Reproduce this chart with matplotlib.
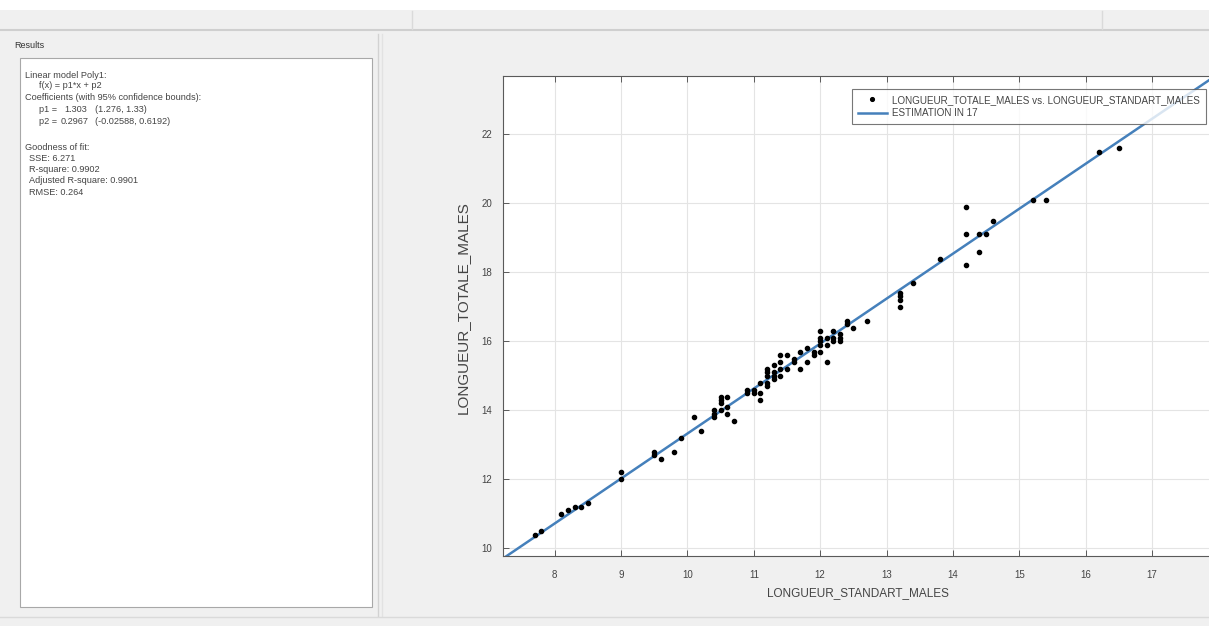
import matplotlib
matplotlib.use("Agg")
import matplotlib.pyplot as plt
from matplotlib.lines import Line2D
from matplotlib.patches import Rectangle

# ---------------- data ----------------
x_std = [7.7, 7.8, 8.1, 8.2, 8.3, 8.4, 8.5, 9.0, 9.0, 9.5, 9.5, 9.6, 9.8, 9.9,
         10.1, 10.2, 10.4, 10.4, 10.4, 10.5, 10.5, 10.5, 10.5, 10.6, 10.6, 10.6,
         10.7, 10.9, 10.9, 11.0, 11.0, 11.1, 11.1, 11.1, 11.2, 11.2, 11.2, 11.2,
         11.2, 11.3, 11.3, 11.3, 11.3, 11.4, 11.4, 11.4, 11.4, 11.5, 11.5, 11.6,
         11.6, 11.7, 11.7, 11.8, 11.8, 11.9, 11.9, 12.0, 12.0, 12.0, 12.0, 12.0,
         12.1, 12.1, 12.1, 12.2, 12.2, 12.2, 12.3, 12.3, 12.3, 12.4, 12.4, 12.5,
         12.7, 13.2, 13.2, 13.2, 13.2, 13.4, 13.8, 14.2, 14.2, 14.2, 14.4, 14.4,
         14.5, 14.6, 15.2, 15.4, 16.2, 16.5]
y_tot = [10.4, 10.5, 11.0, 11.1, 11.2, 11.2, 11.3, 12.2, 12.0, 12.8, 12.7, 12.6, 12.8, 13.2,
         13.8, 13.4, 14.0, 13.9, 13.8, 14.4, 14.3, 14.2, 14.0, 14.4, 14.1, 13.9,
         13.7, 14.6, 14.5, 14.6, 14.5, 14.8, 14.5, 14.3, 15.2, 15.1, 15.0, 14.8,
         14.7, 15.1, 15.0, 14.9, 15.3, 15.6, 15.4, 15.2, 15.0, 15.6, 15.2, 15.5,
         15.4, 15.2, 15.7, 15.8, 15.4, 15.6, 15.7, 16.3, 16.1, 15.9, 15.7, 16.0,
         16.1, 15.9, 15.4, 16.3, 16.1, 16.0, 16.2, 16.1, 16.0, 16.6, 16.5, 16.4,
         16.6, 17.4, 17.3, 17.2, 17.0, 17.7, 18.4, 19.9, 19.1, 18.2, 19.1, 18.6,
         19.1, 19.5, 20.1, 20.1, 21.5, 21.6]

fit_p1 = 1.303
fit_p2 = 0.2967

x_ticks = [8, 9, 10, 11, 12, 13, 14, 15, 16, 17]
y_ticks = [10, 12, 14, 16, 18, 20, 22]

results_lines = [
    ("Linear model Poly1:", 25, 75),
    ("f(x) = p1*x + p2", 39, 86),
    ("Coefficients (with 95% confidence bounds):", 25, 97),
    ("p1 =", 39, 110), ("1.303", 64, 110), ("(1.276, 1.33)", 95, 110),
    ("p2 =", 39, 121), ("0.2967", 61, 121), ("(-0.02588, 0.6192)", 95, 121),
    ("Goodness of fit:", 25, 147),
    ("SSE: 6.271", 29, 158),
    ("R-square: 0.9902", 29, 169),
    ("Adjusted R-square: 0.9901", 29, 181),
    ("RMSE: 0.264", 29, 193),
]

# ---------------- figure ----------------
W, H = 1209, 626
fig = plt.figure(figsize=(W / 100, H / 100), dpi=100, facecolor="#f0f0f0")


def fx(px):
    return px / W


def fy(py):
    return 1 - py / H


def hline(y, x0, x1, color="#d0d0d0", lw=1.2):
    fig.add_artist(Line2D([fx(x0), fx(x1)], [fy(y), fy(y)], color=color, lw=lw,
                          transform=fig.transFigure))


def vline(x, y0, y1, color="#d0d0d0", lw=1.2):
    fig.add_artist(Line2D([fx(x), fx(x)], [fy(y0), fy(y1)], color=color, lw=lw,
                          transform=fig.transFigure))


# window chrome
fig.add_artist(Rectangle((0, fy(10)), 1, 10 / H, transform=fig.transFigure,
                         facecolor="white", edgecolor="none"))
hline(30, 0, W, color="#cfcfcf", lw=1.5)
vline(412, 11, 29, color="#dadada", lw=1.0)
vline(1102, 11, 29, color="#dadada", lw=1.0)
vline(378, 34, 616, color="#d2d2d2", lw=1.0)
vline(382, 34, 616, color="#e2e2e2", lw=1.0)
hline(617, 0, W, color="#dadada", lw=1.0)

fig.text(fx(14), fy(46), "Results", fontsize=6.5, color="#333333",
         family="Liberation Sans", va="center", ha="left")
fig.add_artist(Rectangle((fx(20), fy(607)), fx(372) - fx(20), fy(58) - fy(607),
                         transform=fig.transFigure, facecolor="white",
                         edgecolor="#a8a8a8", lw=0.8))
for txt, px, py in results_lines:
    fig.text(fx(px), fy(py), txt, fontsize=6.6, color="#444444",
             family="Liberation Sans", va="center", ha="left")

# ---------------- axes ----------------
ax_l, ax_r, ax_t, ax_b = 503, 1215, 76, 556
ax = fig.add_axes([fx(ax_l), fy(ax_b), fx(ax_r) - fx(ax_l), fy(ax_t) - fy(ax_b)])
ax.set_facecolor("white")

xmin, xmax = 7.22, 17.95
ymin, ymax = 9.777, 23.69

ax.plot(x_std, y_tot, linestyle="none", marker="o", markersize=3.0,
        color="black", zorder=3,
        label="LONGUEUR_TOTALE_MALES vs. LONGUEUR_STANDART_MALES")
fit_x = [xmin, xmax]
fit_y = [fit_p1 * v + fit_p2 for v in fit_x]
ax.plot(fit_x, fit_y, color="#4580bb", lw=1.8, zorder=2, label="ESTIMATION IN 17")

ax.set_xlim(xmin, xmax)
ax.set_ylim(ymin, ymax)
ax.set_xticks(x_ticks)
ax.set_yticks(y_ticks)
ax.grid(True, color="#e4e4e4", lw=0.8)
ax.set_axisbelow(True)
for s in ax.spines.values():
    s.set_color("#5a5a5a")
    s.set_linewidth(0.8)
ax.tick_params(direction="in", top=True, right=True, length=4, width=0.7,
               color="#5a5a5a", labelcolor="#444444", labelsize=7)
ax.tick_params(axis="x", pad=10)
ax.tick_params(axis="y", pad=8)
for lab in ax.get_xticklabels() + ax.get_yticklabels():
    lab.set_family("Liberation Sans")

ax.set_xlabel("LONGUEUR_STANDART_MALES", fontsize=8.5, color="#444444",
              family="Liberation Sans")
ax.set_ylabel("LONGUEUR_TOTALE_MALES", fontsize=11, color="#444444",
              family="Liberation Sans")
axw, axh = ax_r - ax_l, ax_b - ax_t
ax.xaxis.set_label_coords((858 - ax_l) / axw, -(587 - ax_b) / axh)
ax.yaxis.set_label_coords((463 - ax_l) / axw, 1 - (308 - ax_t) / axh)
ax.yaxis.label.set_va("center")

leg = ax.legend(loc="upper right", bbox_to_anchor=(fx(1206), fy(89)),
                bbox_transform=fig.transFigure, borderaxespad=0,
                frameon=True, fancybox=False, handlelength=3.0,
                handletextpad=0.5, labelspacing=0.35, borderpad=0.6,
                markerscale=0.9,
                prop={"family": "Liberation Sans", "size": 7.1})
leg.get_frame().set_edgecolor("#555555")
leg.get_frame().set_linewidth(0.8)
for t in leg.get_texts():
    t.set_color("#444444")

fig.savefig("out.png", dpi=100, facecolor=fig.get_facecolor())
